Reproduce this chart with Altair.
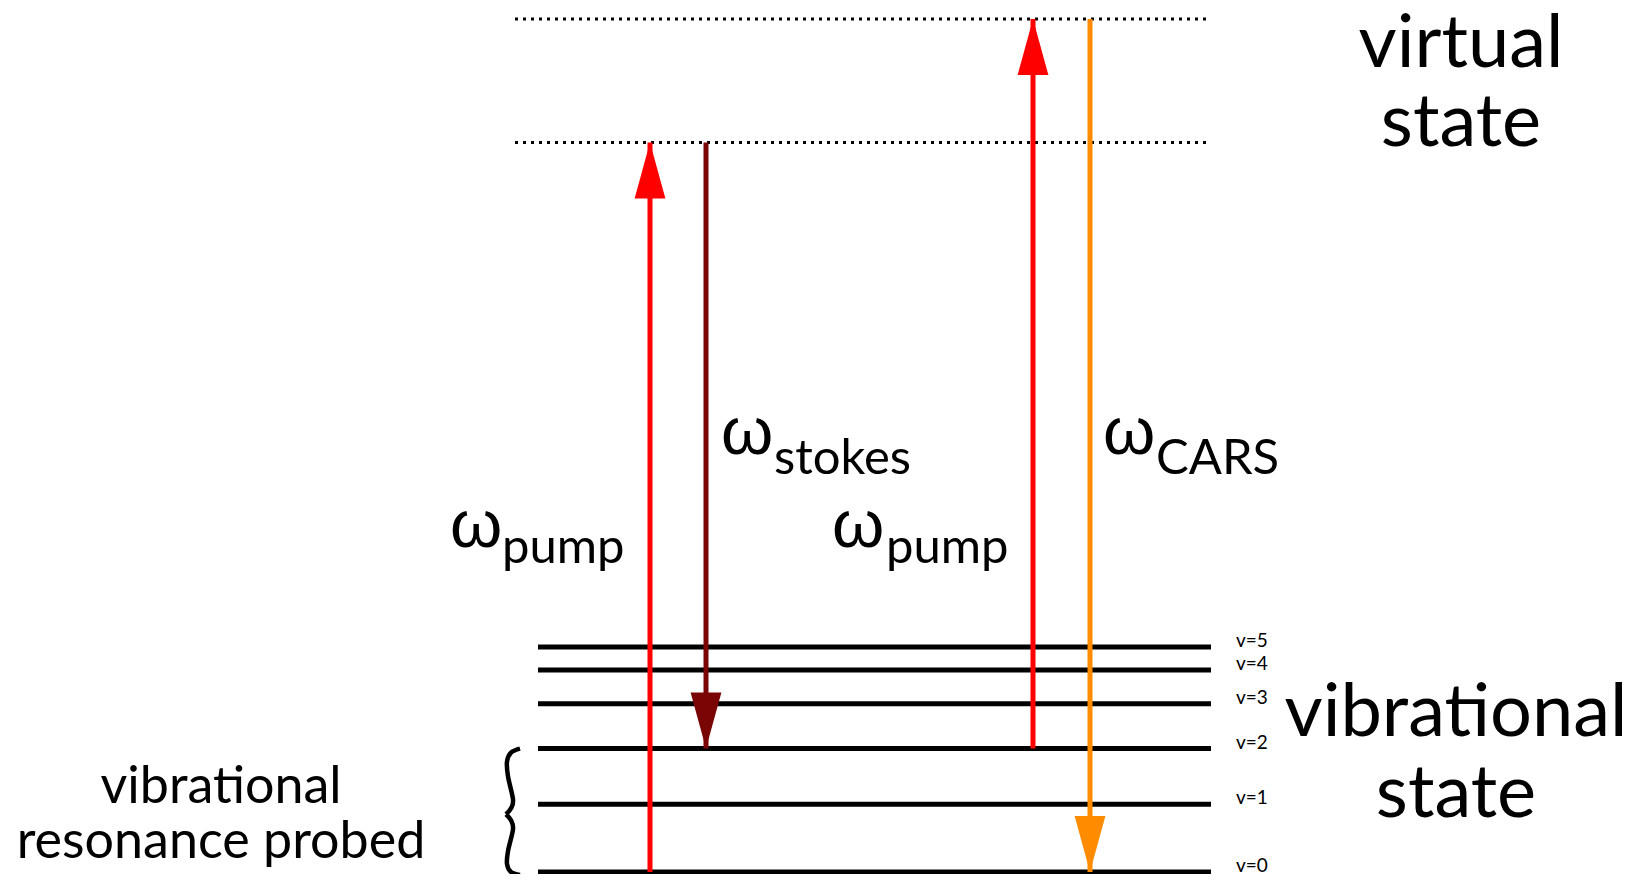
import altair as alt
import pandas as pd

# ---------------- data (energies in arbitrary units, x in diagram units) ----------------
level_names = ["v=0", "v=1", "v=2", "v=3", "v=4", "v=5"]
level_energy = [0, 68, 124, 169, 203, 226]
virtual_energy = [733, 857]
level_x = [538, 1211]
virtual_x = [515, 1211]

arrow_names = ["pump1", "stokes", "pump2", "cars"]
arrow_x = [650, 706, 1033, 1090]
arrow_from = [0, 733, 124, 857]
arrow_to = [733, 124, 857, 0]
arrow_color = ["#FF0000", "#7A0505", "#FF0000", "#FF8C00"]

omega_x = [450, 721, 832, 1103]
omega_y = [326.5, 420, 326.5, 420]
sub_text = ["pump", "stokes", "pump", "CARS"]
sub_x = [502, 774, 886, 1156]
sub_y = [310.4, 400, 310.4, 400]

big_text = ["virtual", "state", "vibrational", "state"]
big_x = [1461, 1461, 1456, 1456]
big_y = [808.7, 729.4, 136.6, 55.3]

probe_text = ["vibrational", "resonance probed"]
probe_x = [221, 221]
probe_y = [69.3, 14.1]

brace_part = ["a"] * 7 + ["b"] * 7
brace_order = list(range(14))
brace_x = [520, 511, 507, 508, 513, 511, 506, 506, 511, 513, 508, 507, 511, 520]
brace_y = [124, 120, 111, 96, 73, 64, 58, 58, 52, 43, 21, 8, 0, -3]

# ---------------- scales ----------------
X = dict(scale=alt.Scale(domain=[8, 1633], zero=False, nice=False), axis=None)
Y = dict(scale=alt.Scale(domain=[-2, 868], zero=False, nice=False), axis=None)

levels = pd.DataFrame({"name": level_names, "E": level_energy,
                       "x1": level_x[0], "x2": level_x[1]})
virt = pd.DataFrame({"E": virtual_energy, "x1": virtual_x[0], "x2": virtual_x[1]})
arrows = pd.DataFrame({"name": arrow_names, "x": arrow_x, "E0": arrow_from,
                       "E1": arrow_to, "color": arrow_color})
arrows["up"] = arrows["E1"] > arrows["E0"]
omegas = pd.DataFrame({"x": omega_x, "E": omega_y, "t": "ω"})
subs = pd.DataFrame({"x": sub_x, "E": sub_y, "t": sub_text})
bigs = pd.DataFrame({"x": big_x, "E": big_y, "t": big_text})
probes = pd.DataFrame({"x": probe_x, "E": probe_y, "t": probe_text})
brace = pd.DataFrame({"part": brace_part, "o": brace_order, "x": brace_x, "E": brace_y})

lvl = alt.Chart(levels).mark_rule(strokeWidth=5, color="black").encode(
    x=alt.X("x1:Q", **X), x2="x2:Q", y=alt.Y("E:Q", **Y))
lvl_lab = alt.Chart(levels).mark_text(
    align="left", baseline="alphabetic", font="Lato", fontSize=19, color="black", dx=25
).encode(x=alt.X("x2:Q", **X), y=alt.Y("E:Q", **Y), text="name:N")

vir = alt.Chart(virt).mark_rule(strokeWidth=3, strokeDash=[3, 5], color="black").encode(
    x=alt.X("x1:Q", **X), x2="x2:Q", y=alt.Y("E:Q", **Y))

shaft = alt.Chart(arrows).mark_rule(strokeWidth=5).encode(
    x=alt.X("x:Q", **X), y=alt.Y("E0:Q", **Y), y2="E1:Q",
    color=alt.Color("color:N", scale=None))

head_up = alt.Chart(arrows[arrows["up"]]).mark_point(
    shape="M0,-1L0.55,1L-0.55,1Z", size=3136, filled=True, opacity=1, yOffset=28
).encode(x=alt.X("x:Q", **X), y=alt.Y("E1:Q", **Y), color=alt.Color("color:N", scale=None))
head_dn = alt.Chart(arrows[~arrows["up"]]).mark_point(
    shape="M0,1L0.55,-1L-0.55,-1Z", size=3136, filled=True, opacity=1, yOffset=-28
).encode(x=alt.X("x:Q", **X), y=alt.Y("E1:Q", **Y), color=alt.Color("color:N", scale=None))

om = alt.Chart(omegas).mark_text(
    align="left", baseline="alphabetic", font="Liberation Sans", fontSize=67, color="black"
).encode(x=alt.X("x:Q", **X), y=alt.Y("E:Q", **Y), text="t:N")
sb = alt.Chart(subs).mark_text(
    align="left", baseline="alphabetic", font="Lato", fontSize=49, color="black"
).encode(x=alt.X("x:Q", **X), y=alt.Y("E:Q", **Y), text="t:N")
bg = alt.Chart(bigs).mark_text(
    align="center", baseline="alphabetic", font="Lato", fontSize=74, color="black"
).encode(x=alt.X("x:Q", **X), y=alt.Y("E:Q", **Y), text="t:N")
pr = alt.Chart(probes).mark_text(
    align="center", baseline="alphabetic", font="Lato", fontSize=52, color="black"
).encode(x=alt.X("x:Q", **X), y=alt.Y("E:Q", **Y), text="t:N")

br = alt.Chart(brace).mark_line(color="black", strokeWidth=4.5, interpolate="cardinal").encode(
    x=alt.X("x:Q", **X), y=alt.Y("E:Q", **Y), detail="part:N", order="o:Q")

chart = alt.layer(vir, lvl, shaft, head_up, head_dn, lvl_lab, om, sb, bg, pr, br).properties(
    width=1625, height=866, autosize=alt.AutoSizeParams(type="none"), padding=0,
    background="white"
).configure_view(strokeWidth=0)

chart.save("out.html", embed_options={"renderer": "svg", "actions": False})
